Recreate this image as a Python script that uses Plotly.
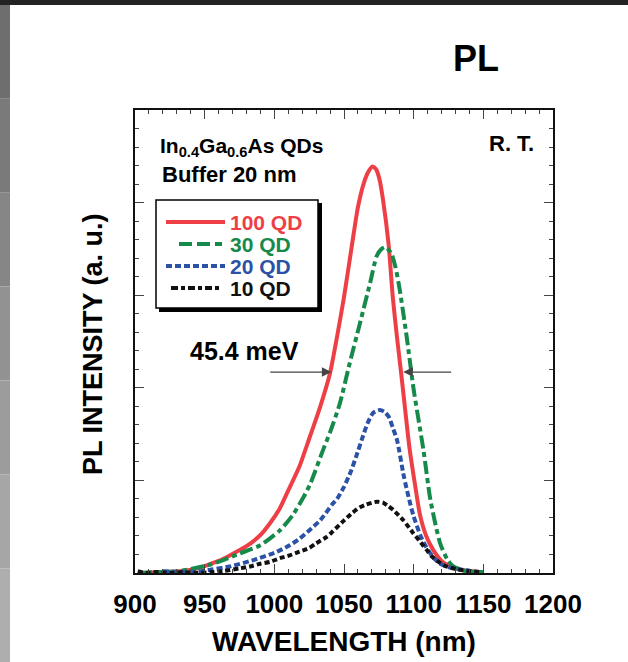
import plotly.graph_objects as go

# ---------------- data ----------------
wl_100 = [905, 920, 932, 945, 951, 960, 968, 980, 990, 997, 1004, 1009, 1018, 1025, 1033, 1040, 1045, 1050,
          1057, 1060, 1064, 1067, 1070.5, 1073, 1075.5, 1078, 1082, 1085, 1088, 1091, 1094, 1097, 1101, 1104.5,
          1109, 1114, 1120, 1126, 1135, 1148]
pl_100 = [0.0, 0.01, 0.02, 0.05, 0.08, 0.13, 0.19, 0.29, 0.41, 0.54, 0.70, 0.86, 1.15, 1.45, 1.80, 2.16, 2.55, 2.98,
          3.67, 3.95, 4.20, 4.32, 4.39, 4.36, 4.25, 4.03, 3.55, 2.98, 2.55, 2.16, 1.75, 1.35, 0.95, 0.63,
          0.40, 0.25, 0.13, 0.07, 0.03, 0.01]

wl_30 = [903, 915, 932, 945, 954, 965, 975, 990, 1004, 1013, 1021, 1026, 1035, 1040, 1047, 1054, 1061.5, 1068.7,
         1073.4, 1077, 1080, 1084, 1087, 1090, 1095, 1100, 1107, 1112, 1119, 1124, 1128.5, 1138, 1150]
pl_30 = [0.0, 0.01, 0.02, 0.06, 0.09, 0.15, 0.21, 0.30, 0.46, 0.62, 0.82, 0.97, 1.33, 1.52, 1.83, 2.26, 2.70, 3.13,
         3.42, 3.50, 3.52, 3.45, 3.30, 3.06, 2.55, 1.98, 1.33, 0.79, 0.32, 0.15, 0.07, 0.02, 0.01]

wl_20 = [920, 932, 944, 956, 968, 985, 1002, 1011, 1018, 1025, 1033, 1042, 1045, 1050, 1055, 1059, 1063, 1067,
         1071, 1075.8, 1079, 1082, 1085, 1088, 1093, 1097, 1100, 1105, 1109, 1114, 1119, 1128, 1138, 1145]
pl_20 = [0.02, 0.01, 0.01, 0.04, 0.07, 0.14, 0.23, 0.30, 0.37, 0.46, 0.57, 0.75, 0.80, 0.93, 1.10, 1.27, 1.45, 1.62,
         1.73, 1.76, 1.74, 1.69, 1.57, 1.44, 1.04, 0.78, 0.61, 0.40, 0.28, 0.17, 0.10, 0.05, 0.03, 0.01]

wl_10 = [902, 908, 915, 925, 935, 944, 955, 963, 975, 982.5, 990, 997, 1004, 1011, 1018, 1025, 1030, 1037.6, 1042,
         1049.5, 1056, 1061.5, 1066, 1073.4, 1078, 1082, 1085.4, 1092.6, 1099.7, 1104, 1109.3, 1113, 1117, 1122,
         1131, 1140, 1148]
pl_10 = [0.02, 0.0, 0.01, 0.0, 0.01, 0.0, 0.01, 0.02, 0.05, 0.07, 0.10, 0.12, 0.16, 0.19, 0.23, 0.27, 0.32, 0.39, 0.45,
         0.56, 0.65, 0.71, 0.74, 0.77, 0.76, 0.72, 0.68, 0.57, 0.43, 0.35, 0.25, 0.18, 0.13, 0.08,
         0.04, 0.02, 0.01]

series_names = ["100 QD", "30 QD", "20 QD", "10 QD"]
x_ticks = [900, 950, 1000, 1050, 1100, 1150, 1200]
fwhm_label = "45.4 meV"
fwhm_left = [996, 1041]   # tail, tip
fwhm_right = [1128, 1092.5]
fwhm_level = 2.17

# ---------------- styles ----------------
W, H = 628, 662
L, R, T, B = 135, 553, 110, 573
FONT = "Liberation Sans, Arial, Helvetica, sans-serif"
colors = ["#ee3f46", "#168a4a", "#2b52a6", "#111111"]
dashes = ["solid", "13px,4px,5px,4px", "6px,3px", "5px,3px"]
legend_dashes = ["solid", "13px,5px", "6px,3px", "7px,3px,4px,3px"]
legend_rows = [222, 244, 266, 288]
legend_sample_x = [(166, 225), (179, 222), (166, 225), (171, 219)]


def px(xp):
    return (xp - L) / (R - L)


def py(yp):
    return (B - yp) / (B - T)


fig = go.Figure()
for wl, pl, name, c, d in zip([wl_100, wl_30, wl_20, wl_10], [pl_100, pl_30, pl_20, pl_10],
                              series_names, colors, dashes):
    fig.add_trace(go.Scatter(
        x=wl, y=pl, mode="lines", line=dict(color=c, width=4, dash=d, shape="spline", smoothing=0.6),
        name=name, showlegend=False))

shapes = []
# background decoration: top dark bar and left gray stripe
shapes.append(dict(type="rect", xref="paper", yref="paper", x0=px(0), x1=px(W), y0=py(5), y1=py(0),
                   fillcolor="#232323", line=dict(width=0), layer="below"))
grays = ["#6e6e6e", "#7a7a7a", "#868686", "#929292", "#9c9c9c", "#a6a6a6", "#aeaeae"]
n = len(grays)
for i, g in enumerate(grays):
    y0 = 5 + (H - 5) * i / n
    y1 = 5 + (H - 5) * (i + 1) / n
    shapes.append(dict(type="rect", xref="paper", yref="paper", x0=px(0), x1=px(10), y0=py(y1), y1=py(y0),
                       fillcolor=g, line=dict(width=0), layer="below"))
# legend box with drop shadow
shapes.append(dict(type="rect", xref="paper", yref="paper", x0=px(159), x1=px(322), y0=py(312), y1=py(203),
                   fillcolor="#000000", line=dict(width=0), layer="above"))
shapes.append(dict(type="rect", xref="paper", yref="paper", x0=px(156), x1=px(318), y0=py(308), y1=py(200),
                   fillcolor="#ffffff", line=dict(width=1.5, color="#000000"), layer="above"))

annotations = []
# custom legend
for name, c, d, yr, (sx0, sx1) in zip(series_names, colors, legend_dashes, legend_rows, legend_sample_x):
    shapes.append(dict(type="line", xref="paper", yref="paper", x0=px(sx0), x1=px(sx1), y0=py(yr), y1=py(yr),
                       line=dict(color=c, width=4, dash=d), layer="above"))
    annotations.append(dict(text=f"<b>{name}</b>", x=px(228), y=py(yr), xref="paper", yref="paper",
                            showarrow=False, font=dict(size=21, color=c, family=FONT),
                            xanchor="left", yanchor="middle"))

annotations += [
    dict(text="<b>PL</b>", x=px(476), y=py(58), xref="paper", yref="paper", showarrow=False,
         font=dict(size=36, color="#000", family=FONT), xanchor="center", yanchor="middle"),
    dict(text="<b>In<sub>0.4</sub>Ga<sub>0.6</sub>As QDs</b>", x=px(158), y=py(147), xref="paper", yref="paper",
         showarrow=False, font=dict(size=21, color="#000", family=FONT), xanchor="left", yanchor="middle"),
    dict(text="<b>Buffer 20 nm</b>", x=px(160), y=py(174), xref="paper", yref="paper", showarrow=False,
         font=dict(size=22, color="#000", family=FONT), xanchor="left", yanchor="middle"),
    dict(text="<b>R. T.</b>", x=px(511), y=py(143), xref="paper", yref="paper", showarrow=False,
         font=dict(size=22, color="#000", family=FONT), xanchor="center", yanchor="middle"),
    dict(text=f"<b>{fwhm_label}</b>", x=px(244), y=py(351), xref="paper", yref="paper", showarrow=False,
         font=dict(size=25, color="#000", family=FONT), xanchor="center", yanchor="middle"),
    dict(text="<b>PL INTENSITY (a. u.)</b>", x=px(93), y=py(344), xref="paper", yref="paper", showarrow=False,
         textangle=-90, font=dict(size=27, color="#000", family=FONT), xanchor="center", yanchor="middle"),
    dict(text="<b>WAVELENGTH (nm)</b>", x=px(344), y=py(641), xref="paper", yref="paper", showarrow=False,
         font=dict(size=28, color="#000", family=FONT), xanchor="center", yanchor="middle"),
    dict(x=fwhm_left[1], y=fwhm_level, ax=fwhm_left[0], ay=fwhm_level, xref="x", yref="y", axref="x", ayref="y",
         showarrow=True, arrowhead=2, arrowsize=1.6, arrowwidth=1.2, arrowcolor="#444", text=""),
    dict(x=fwhm_right[1], y=fwhm_level, ax=fwhm_right[0], ay=fwhm_level, xref="x", yref="y", axref="x", ayref="y",
         showarrow=True, arrowhead=2, arrowsize=1.6, arrowwidth=1.2, arrowcolor="#444", text=""),
]

fig.update_layout(
    width=W, height=H, margin=dict(l=L, r=W - R, t=T, b=H - B, pad=0),
    paper_bgcolor="#ffffff", plot_bgcolor="#ffffff",
    font=dict(family=FONT, color="#000"),
    shapes=shapes, annotations=annotations,
    showlegend=False,
)
fig.update_xaxes(range=[900, 1200], tickvals=x_ticks, ticktext=[f"<b>{t}</b>" for t in x_ticks],
                 ticks="inside", ticklen=9, tickwidth=1.2, tickcolor="#444", ticklabelstandoff=7,
                 minor=dict(ticks="inside", ticklen=4, dtick=10, tickwidth=1, tickcolor="#444"),
                 showline=True, linecolor="#111", linewidth=1.6, mirror="ticks", showgrid=False, zeroline=False,
                 tickfont=dict(size=26, family=FONT, color="#000"))
fig.update_yaxes(range=[0, 5], dtick=1, showticklabels=False,
                 ticks="inside", ticklen=9, tickwidth=1.2, tickcolor="#444",
                 minor=dict(ticks="inside", ticklen=4, dtick=0.2, tickwidth=1, tickcolor="#444"),
                 showline=True, linecolor="#111", linewidth=1.6, mirror="ticks", showgrid=False, zeroline=False)

fig.write_html("out.html")
